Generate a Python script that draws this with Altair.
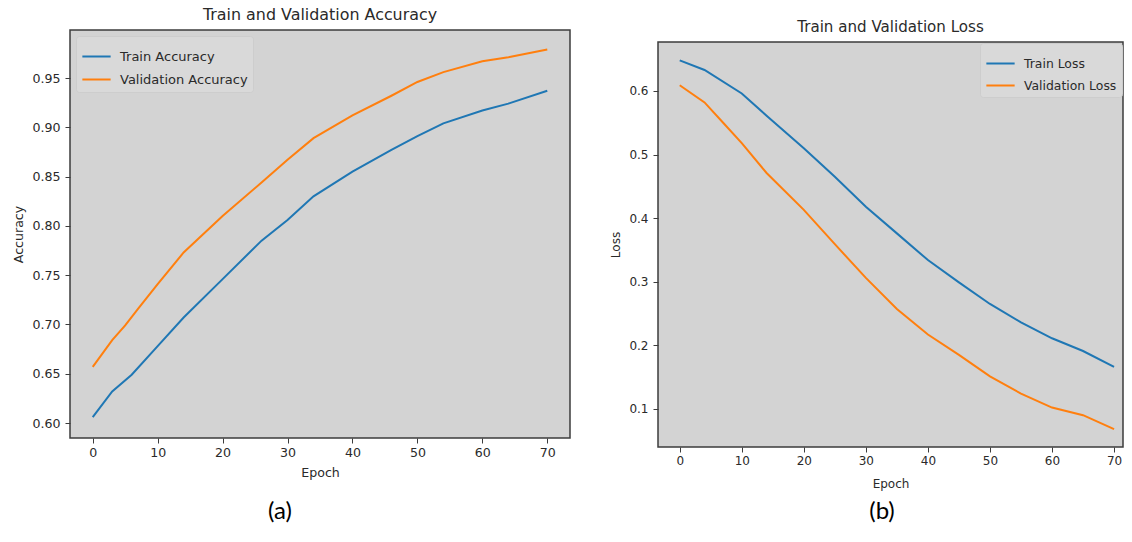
import altair as alt
import pandas as pd

# ---------------- data ----------------
acc_train_epochs = [0, 3, 6, 10, 14, 20, 26, 30, 34, 40, 46, 50, 54, 60, 64, 70]
train_acc = [0.606, 0.632, 0.649, 0.678, 0.707, 0.746, 0.785, 0.806, 0.830, 0.855,
             0.877, 0.891, 0.904, 0.917, 0.924, 0.937]
acc_val_epochs = [0, 3, 5, 7, 10, 14, 20, 26, 30, 34, 40, 46, 50, 54, 60, 64, 70]
val_acc = [0.657, 0.684, 0.699, 0.716, 0.741, 0.773, 0.810, 0.844, 0.867, 0.889,
           0.912, 0.932, 0.946, 0.956, 0.967, 0.971, 0.979]

loss_train_epochs = [0, 4, 10, 14, 20, 25, 30, 35, 40, 45, 50, 55, 60, 65, 70]
train_loss = [0.648, 0.633, 0.596, 0.561, 0.510, 0.465, 0.418, 0.376, 0.334, 0.299,
              0.265, 0.236, 0.211, 0.191, 0.166]
loss_val_epochs = [0, 4, 7, 10, 14, 20, 25, 30, 35, 40, 45, 50, 55, 60, 65, 70]
val_loss = [0.609, 0.582, 0.550, 0.518, 0.471, 0.413, 0.359, 0.306, 0.257, 0.217,
            0.185, 0.151, 0.124, 0.102, 0.090, 0.068]

acc_series = ["Train Accuracy", "Validation Accuracy"]
loss_series = ["Train Loss", "Validation Loss"]
titles = ["Train and Validation Accuracy", "Train and Validation Loss"]
y_titles = ["Accuracy", "Loss"]
x_title = "Epoch"
captions = ["(a)", "(b)"]
x_ticks = [0, 10, 20, 30, 40, 50, 60, 70]
acc_ticks = [0.60, 0.65, 0.70, 0.75, 0.80, 0.85, 0.90, 0.95]
loss_ticks = [0.1, 0.2, 0.3, 0.4, 0.5, 0.6]

# ---------------- styling ----------------
COLORS = ["#1f77b4", "#ff7f0e"]
BG = "#d3d3d3"
FRAME = "#3c3c3c"
TXT = "#2a2a2a"
FONT = "DejaVu Sans"


def long_df(e1, v1, e2, v2, names):
    a = pd.DataFrame({"epoch": e1, "value": v1, "series": names[0]})
    b = pd.DataFrame({"epoch": e2, "value": v2, "series": names[1]})
    return pd.concat([a, b], ignore_index=True)


def spacer(h):
    return alt.Chart(pd.DataFrame({"t": [0]})).mark_point(size=0, opacity=0).encode(
        x=alt.value(0), y=alt.value(0)
    ).properties(width=1, height=h,
                 view=alt.ViewBackground(fill="transparent", stroke="transparent"))


def panel(df, names, title, ytitle, yticks, yfmt, xdomain, ydomain, w, h, fs, tfs, lfs,
          xlab_pad, xtitle_pad, legend_orient, legend_offset, caption, cap_x, cap_y):
    xaxis = alt.Axis(values=x_ticks, format="d", grid=False, domain=False,
                     tickSize=5, tickColor=FRAME, tickWidth=1,
                     labelFont=FONT, labelFontSize=fs, labelColor=TXT,
                     labelPadding=xlab_pad,
                     title=x_title, titleFont=FONT, titleFontSize=fs,
                     titleFontWeight="normal", titleColor=TXT, titlePadding=xtitle_pad)
    yaxis = alt.Axis(values=yticks, format=yfmt, grid=False, domain=False,
                     tickSize=5, tickColor=FRAME, tickWidth=1,
                     labelFont=FONT, labelFontSize=fs, labelColor=TXT, labelPadding=5,
                     title=ytitle, titleFont=FONT, titleFontSize=fs,
                     titleFontWeight="normal", titleColor=TXT, titlePadding=6)
    legend = alt.Legend(title=None, orient=legend_orient, offset=legend_offset,
                        padding=5, fillColor="#d9d9d9", strokeColor="#cdcdcd",
                        cornerRadius=3, symbolType="stroke", symbolStrokeWidth=2,
                        symbolSize=800, labelFont=FONT, labelFontSize=lfs,
                        labelColor=TXT, rowPadding=0, labelOffset=8)
    lines = alt.Chart(df).mark_line(strokeWidth=2, clip=True).encode(
        x=alt.X("epoch:Q", scale=alt.Scale(domain=xdomain, nice=False, zero=False),
                axis=xaxis),
        y=alt.Y("value:Q", scale=alt.Scale(domain=ydomain, nice=False, zero=False),
                axis=yaxis),
        color=alt.Color("series:N", scale=alt.Scale(domain=names, range=COLORS),
                        legend=legend, sort=names),
    )
    cap = alt.Chart(pd.DataFrame({"t": [caption]})).mark_text(
        font="Lato", fontSize=24, color="#000000", baseline="middle", align="center"
    ).encode(text="t:N", x=alt.value(cap_x), y=alt.value(cap_y))
    return alt.layer(lines, cap).properties(
        width=w, height=h,
        title=alt.Title(title, font=FONT, fontSize=tfs, fontWeight="normal",
                        color=TXT, offset=7),
    )


acc_df = long_df(acc_train_epochs, train_acc, acc_val_epochs, val_acc, acc_series)
loss_df = long_df(loss_train_epochs, train_loss, loss_val_epochs, val_loss, loss_series)

left = panel(acc_df, acc_series, titles[0], y_titles[0], acc_ticks, ".2f",
             [-3.5, 73.5], [0.5848, 0.9987], 500, 408, 12.6, 15.9, 13.0, 3, 8,
             "top-left", 6, captions[0], 210, 482)
# the right panel is cut by the picture's edge in the reference
right = panel(loss_df, loss_series, titles[1], y_titles[1], loss_ticks, ".1f",
              [-3.5, 71.44], [0.040, 0.677], 465, 405, 12.0, 15.1, 12.4, 3, 12,
              "top-right", 1, captions[1], 224, 470)


def column(sp_h, view):
    return alt.vconcat(spacer(sp_h), view, spacing=0).resolve_scale(
        color="independent"
    ).resolve_legend(color="independent")


chart = alt.hconcat(column(1, left), column(14, right), spacing=38).resolve_scale(
    color="independent"
).resolve_legend(color="independent").properties(
    padding={"left": 4, "top": -5, "right": 0, "bottom": 0}
).configure_view(stroke=FRAME, strokeWidth=1.5, fill=BG)

chart.save("out.html", embed_options={"renderer": "svg", "actions": False})
